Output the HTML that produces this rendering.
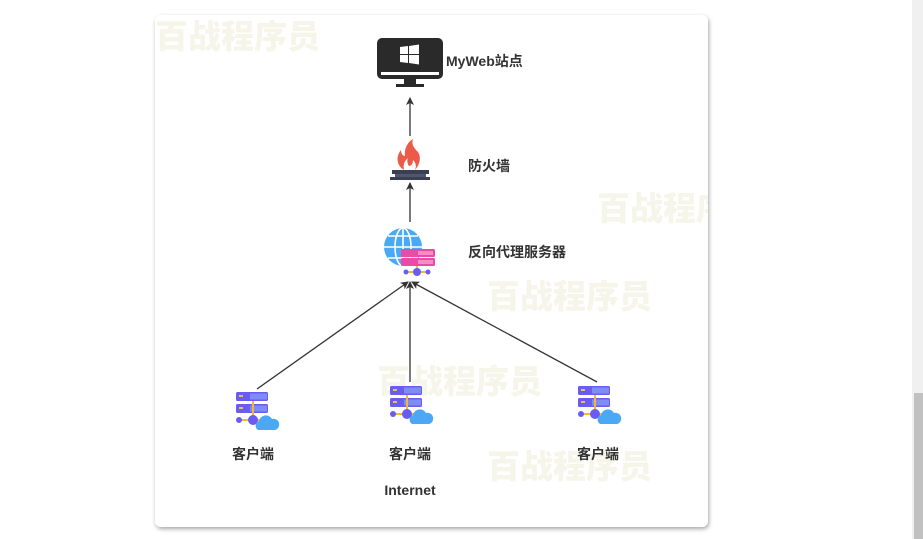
<!DOCTYPE html>
<html><head><meta charset="utf-8"><style>
html,body{margin:0;padding:0;background:#fff;width:923px;height:539px;overflow:hidden}
svg{display:block}
</style></head><body>
<svg width="923" height="539" viewBox="0 0 923 539" xmlns="http://www.w3.org/2000/svg" font-family="Liberation Sans, Noto Sans CJK SC, sans-serif">
<defs>
<filter id="sh" x="-5%" y="-5%" width="110%" height="110%"><feDropShadow dx="1" dy="2" stdDeviation="2" flood-color="#000" flood-opacity="0.35"/></filter>
<marker id="ar" markerWidth="8" markerHeight="8" refX="7" refY="4" orient="auto" markerUnits="userSpaceOnUse"><path d="M0,0 L8,4 L0,8 L2,4 z" fill="#333"/></marker>
<g id="cli">
<rect x="0" y="0" width="32" height="9" rx="1.5" fill="#6a5cf0"/>
<rect x="14" y="1.5" width="17" height="6" fill="#7e8cf8"/>
<rect x="0" y="12" width="32" height="9" rx="1.5" fill="#6a5cf0"/>
<rect x="14" y="13.5" width="17" height="6" fill="#7e8cf8"/>
<rect x="3" y="3" width="4" height="2" fill="#e8c24a"/><rect x="3" y="15" width="4" height="2" fill="#e8c24a"/>
<line x1="17" y1="9" x2="17" y2="28" stroke="#f5b92e" stroke-width="2"/>
<line x1="2" y1="28" x2="26" y2="28" stroke="#f5b92e" stroke-width="2"/>
<circle cx="3" cy="28" r="3" fill="#6a5cf0"/><circle cx="17" cy="28" r="5" fill="#6a5cf0"/>
<path d="M22,38 a5,5 0 0 1 1,-9 a7,7 0 0 1 13,-2 a5,5 0 0 1 3,11 z" fill="#4ba8f5"/>
</g>
</defs>
<rect x="912" y="0" width="11" height="539" fill="#f0f0f0"/>
<rect x="914" y="393" width="9" height="146" fill="#c1c1c1"/>
<rect x="155" y="15" width="553" height="512" rx="6" fill="#fff" filter="url(#sh)"/>
<clipPath id="cp"><rect x="155" y="15" width="553" height="512" rx="6"/></clipPath>
<g clip-path="url(#cp)" font-size="33" font-weight="900" fill="#f5f5ea">
<text x="155" y="48">百战程序员</text>
<text x="597" y="220">百战程序员</text>
<text x="487" y="308">百战程序员</text>
<text x="377" y="393">百战程序员</text>
<text x="487" y="478">百战程序员</text>
</g>
<rect x="377" y="38" width="66" height="41" rx="5" fill="#2a2a2a"/>
<rect x="381" y="72" width="58" height="3" fill="#fff"/>
<rect x="404" y="79" width="12" height="5" fill="#2a2a2a"/>
<rect x="396" y="84" width="28" height="3" fill="#2a2a2a"/>
<path d="M400,47 l8,-1 v8 h-8 z M409,46 l10,-1.5 v9.5 h-10 z M400,55 h8 v8 l-8,-1 z M409,55 h10 v9.5 l-10,-1.5 z" fill="#fff"/>
<text x="446" y="66" font-size="14" font-weight="bold" fill="#333">MyWeb站点</text>
<path d="M404,170 c-8,-5 -8,-14 -3,-20 c0,5 3,6 4,6 c-1,-8 3,-14 8,-17 c-2,6 2,10 5,13 c2,3 4,10 -3,18 c2,-5 0,-8 -2,-10 c0,4 -2,6 -4,6 c-2,-3 -2,-6 -1,-8 c-4,3 -5,8 -4,12 z" fill="#ec5a4a"/>
<rect x="392" y="170" width="37" height="4" fill="#3a3f55"/>
<rect x="395" y="174" width="31" height="3" fill="#50566e"/>
<rect x="390" y="177" width="40" height="3" fill="#3a3f55"/>
<text x="468" y="171" font-size="14" font-weight="bold" fill="#333">防火墙</text>
<circle cx="403" cy="247" r="19" fill="#4ba8f5"/>
<g stroke="#fff" stroke-width="1.6" fill="none">
<ellipse cx="403" cy="247" rx="8" ry="19"/><line x1="403" y1="228" x2="403" y2="266"/>
<line x1="384" y1="247" x2="422" y2="247"/><path d="M388,236 h30 M388,258 h30"/>
</g>
<rect x="401" y="249" width="34" height="8" rx="1.5" fill="#e94ba8"/>
<rect x="401" y="258" width="34" height="8" rx="1.5" fill="#e94ba8"/>
<rect x="418" y="251" width="15" height="4" fill="#f58cc8"/><rect x="418" y="260" width="15" height="4" fill="#f58cc8"/>
<line x1="417" y1="266" x2="417" y2="272" stroke="#f5b92e" stroke-width="2"/>
<line x1="406" y1="272" x2="428" y2="272" stroke="#f5b92e" stroke-width="2"/>
<circle cx="406" cy="272" r="2.5" fill="#6a5cf0"/><circle cx="428" cy="272" r="2.5" fill="#6a5cf0"/><circle cx="417" cy="272" r="4" fill="#6a5cf0"/>
<text x="468" y="257" font-size="14" font-weight="bold" fill="#333">反向代理服务器</text>
<g stroke="#333" stroke-width="1.3" fill="none" marker-end="url(#ar)">
<line x1="410" y1="136" x2="410" y2="98"/>
<line x1="410" y1="222" x2="410" y2="183"/>
<line x1="257" y1="389" x2="408" y2="282"/>
<line x1="410" y1="382" x2="410" y2="282"/>
<line x1="597" y1="382" x2="412" y2="282"/>
</g>
<use href="#cli" x="236" y="392"/>
<use href="#cli" x="390" y="386"/>
<use href="#cli" x="578" y="386"/>
<g font-size="14" font-weight="bold" fill="#333" text-anchor="middle">
<text x="253" y="459">客户端</text>
<text x="410" y="459">客户端</text>
<text x="598" y="459">客户端</text>
<text x="410" y="495">Internet</text>
</g>
</svg>
</body></html>
